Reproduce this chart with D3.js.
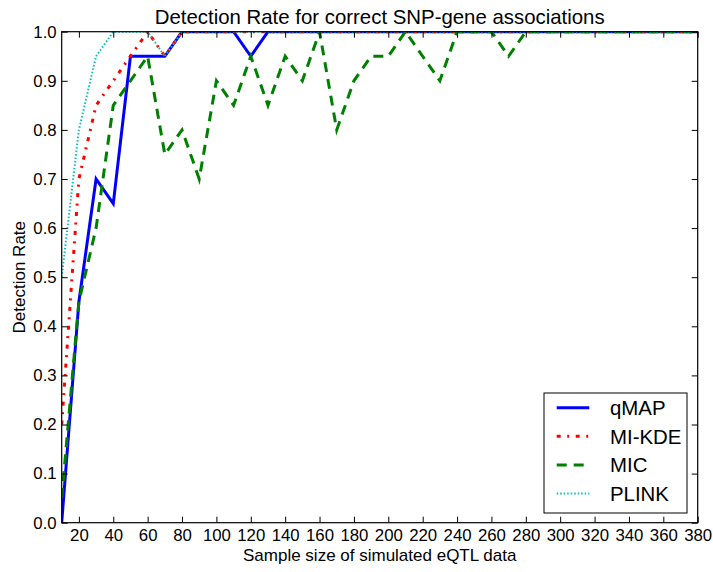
<!DOCTYPE html>
<html>
<head>
	<meta charset="utf-8">
	<title>Detection Rate</title>
	<script src="https://d3js.org/d3.v7.min.js"></script>
	<style>
	body { margin:0; background:#fff; }
	text { font-family: "Liberation Sans", Arial, sans-serif; fill:#000; }
	</style>
</head>
<body>
	<svg width="713" height="572" id="chart"></svg>
	<script type="text/javascript">

		// sample sizes (x) and detection rates per method
		const sampleSizes = [10,20,30,40,50,60,70,80,90,100,110,120,130,140,150,160,170,180,190,200,
			210,220,230,240,250,260,270,280,290,300,310,320,330,340,350,360,370,380];
		const qmap = [0.0,0.45,0.70,0.65,0.95,0.95,0.95,1,1,1,1,0.95,1,1,1,1,1,1,1,1,
			1,1,1,1,1,1,1,1,1,1,1,1,1,1,1,1,1,1];
		const mikde = [0.2,0.7,0.85,0.9,0.95,1.0,0.95,1,1,1,1,1,1,1,1,1,1,1,1,1,
			1,1,1,1,1,1,1,1,1,1,1,1,1,1,1,1,1,1];
		const mic = [0.05,0.45,0.6,0.85,0.9,0.95,0.75,0.8,0.7,0.9,0.85,0.95,0.85,0.95,0.9,1.0,0.8,0.9,0.95,0.95,
			1.0,0.95,0.9,1,1,1,0.95,1,1,1,1,1,1,1,1,1,1,1];
		const plink = [0.5,0.8,0.95,1,1,1,0.95,1,1,1,1,1,1,1,1,1,1,1,1,1,
			1,1,1,1,1,1,1,1,1,1,1,1,1,1,1,1,1,1];

		const xTicks = [20,40,60,80,100,120,140,160,180,200,220,240,260,280,300,320,340,360,380];
		const yTicks = [0.0,0.1,0.2,0.3,0.4,0.5,0.6,0.7,0.8,0.9,1.0];

		const series = [
			{name:'qMAP', values:qmap, color:'#0000ff', width:3, dash:null},
			{name:'MI-KDE', values:mikde, color:'#ff0000', width:3, dash:'4,6.5,2,6.5'},
			{name:'MIC', values:mic, color:'#008000', width:3, dash:'10,7'},
			{name:'PLINK', values:plink, color:'#00bfbf', width:2, dash:'1.5,2'}
		];

		const svg = d3.select('#chart');
		const margin = {top:31.7, left:61.7, right:15.3, bottom:49.3};
		const width = +svg.attr('width') - margin.left - margin.right;
		const height = +svg.attr('height') - margin.top - margin.bottom;

		const xscale = d3.scaleLinear().domain([10,380]).range([0,width]);
		const yscale = d3.scaleLinear().domain([0,1]).range([height,0]);

		const g = svg.append('g').attr('transform',`translate(${margin.left},${margin.top})`);

		g.append('clipPath').attr('id','clip')
			.append('rect').attr('width',width).attr('height',height);

		const line = d3.line()
			.x((d,i) => xscale(sampleSizes[i]))
			.y(d => yscale(d));

		const lines = g.append('g').attr('clip-path','url(#clip)');
		series.forEach(s => {
			lines.append('path')
				.attr('d', line(s.values))
				.attr('fill','none')
				.attr('stroke', s.color)
				.attr('stroke-width', s.width)
				.attr('stroke-dasharray', s.dash)
				.attr('stroke-linejoin','miter');
		});

		// axes, ticks pointing inward on all four sides
		const tickLen = 6;
		const fmt = d3.format('.1f');
		g.append('g').attr('transform',`translate(0,${height})`)
			.call(d3.axisBottom(xscale).tickValues(xTicks).tickSizeInner(-tickLen).tickSizeOuter(0).tickPadding(6))
			.call(a => a.selectAll('text').style('font-size','16.8px'));
		g.append('g')
			.call(d3.axisTop(xscale).tickValues(xTicks).tickSizeInner(-tickLen).tickSizeOuter(0).tickFormat(''));
		g.append('g')
			.call(d3.axisLeft(yscale).tickValues(yTicks).tickFormat(fmt).tickSizeInner(-tickLen).tickSizeOuter(0).tickPadding(5))
			.call(a => a.selectAll('text').style('font-size','16.8px'));
		g.append('g').attr('transform',`translate(${width},0)`)
			.call(d3.axisRight(yscale).tickValues(yTicks).tickSizeInner(-tickLen).tickSizeOuter(0).tickFormat(''));

		g.selectAll('.domain').remove();
		g.selectAll('.tick line').attr('stroke','#000');
		g.append('rect').attr('width',width).attr('height',height)
			.attr('fill','none').attr('stroke','#000').attr('stroke-width',1.2);

		// legend
		const lg = g.append('g').attr('transform',`translate(${544-margin.left},${393-margin.top})`);
		lg.append('rect').attr('width',143).attr('height',120)
			.attr('fill','#fff').attr('stroke','#000').attr('stroke-width',1);
		series.forEach((s,i) => {
			const y = 14.7 + i*28.6;
			lg.append('line').attr('x1',12.7).attr('x2',45.3).attr('y1',y).attr('y2',y)
				.attr('stroke',s.color).attr('stroke-width',s.width).attr('stroke-dasharray',s.dash);
			lg.append('text').attr('x',66).attr('y',y).attr('dy','0.36em')
				.style('font-size','20.4px').text(s.name);
		});

		// titles
		svg.append('text').attr('x',margin.left+width/2).attr('y',23.5)
			.attr('text-anchor','middle').style('font-size','20.4px')
			.text('Detection Rate for correct SNP-gene associations');
		svg.append('text').attr('x',margin.left+width/2).attr('y',561)
			.attr('text-anchor','middle').style('font-size','17px')
			.text('Sample size of simulated eQTL data');
		svg.append('text').attr('transform',`translate(25,${margin.top+height/2}) rotate(-90)`)
			.attr('text-anchor','middle').style('font-size','17px')
			.text('Detection Rate');

	</script>
</body>
</html>
